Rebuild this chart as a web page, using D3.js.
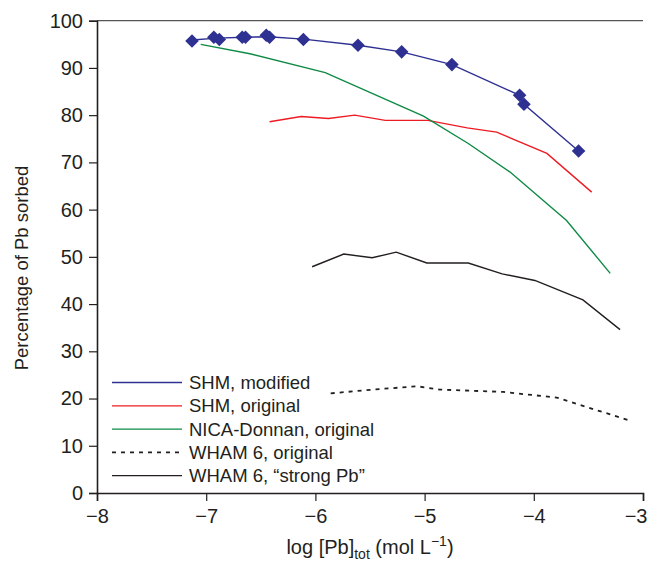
<!DOCTYPE html>
<html>
<head>
<meta charset="utf-8">
<script src="https://cdn.jsdelivr.net/npm/d3@7"></script>
<style>
  body { margin: 0; background: #fff; }
  svg text { font-family: "Liberation Sans", Arial, Helvetica, sans-serif; fill: #231f20; }
</style>
</head>
<body>
<div id="chart"></div>
<script>
const width = 648, height = 563;
const margin = {top: 20.7, right: 5, bottom: 70, left: 97};

// measured points (diamonds), SHM modified
const dataX = [-7.13, -6.93, -6.88, -6.67, -6.64, -6.45, -6.42, -6.11, -5.61, -5.21, -4.75, -4.13, -4.09, -3.59];
const dataY = [95.7, 96.5, 96.0, 96.5, 96.5, 96.9, 96.5, 96.0, 94.8, 93.4, 90.7, 84.2, 82.3, 72.4];

// model curves
const shmModX = [-7.13, -6.9, -6.65, -6.43, -6.11, -5.61, -5.21, -4.75, -4.13, -4.09, -3.59];
const shmModY = [95.9, 96.3, 96.5, 96.6, 96.1, 94.8, 93.4, 90.7, 84.2, 82.3, 72.4];

const shmOrigX = [-6.42, -6.13, -5.88, -5.64, -5.36, -4.97, -4.61, -4.34, -3.88, -3.47];
const shmOrigY = [78.6, 79.7, 79.3, 80.0, 78.9, 78.9, 77.3, 76.4, 71.9, 63.7];

const nicaX = [-7.05, -6.6, -5.91, -5.01, -4.6, -4.22, -3.70, -3.30];
const nicaY = [95.0, 93.0, 89.0, 79.8, 74.0, 68.0, 57.7, 46.5];

const whamOrigX = [-5.86, -5.47, -5.07, -4.86, -4.28, -3.79, -3.13];
const whamOrigY = [21.1, 21.9, 22.6, 21.9, 21.4, 20.2, 15.4];

const whamStrongX = [-6.03, -5.74, -5.48, -5.26, -4.98, -4.60, -4.29, -3.99, -3.55, -3.21];
const whamStrongY = [47.9, 50.6, 49.8, 51.0, 48.7, 48.7, 46.4, 45.0, 40.9, 34.6];

const xTicks = [-8, -7, -6, -5, -4, -3];
const yTicks = [0, 10, 20, 30, 40, 50, 60, 70, 80, 90, 100];

const seriesNames = ['SHM, modified', 'SHM, original', 'NICA-Donnan, original', 'WHAM 6, original', 'WHAM 6, \u201cstrong Pb\u201d'];
const seriesColors = ['#2e3192', '#ed1c24', '#0f8a45', '#231f20', '#231f20'];
const seriesDash = [null, null, null, '4,5', null];

function zip(xs, ys) { return xs.map((x, i) => ({x: x, y: ys[i]})); }

const series = [
  zip(shmModX, shmModY),
  zip(shmOrigX, shmOrigY),
  zip(nicaX, nicaY),
  zip(whamOrigX, whamOrigY),
  zip(whamStrongX, whamStrongY)
];

const svg = d3.select('#chart').append('svg')
  .attr('width', width)
  .attr('height', height);

const x = d3.scaleLinear().domain([-8, -3]).range([margin.left, width - margin.right]);
const y = d3.scaleLinear().domain([0, 100]).range([height - margin.bottom, margin.top]);

// top frame line
svg.append('line')
  .attr('x1', x(-8)).attr('x2', x(-3))
  .attr('y1', y(100)).attr('y2', y(100))
  .attr('stroke', '#555').attr('stroke-width', 1.2);

const xAxis = svg.append('g')
  .attr('transform', 'translate(0,' + y(0) + ')')
  .call(d3.axisBottom(x).tickValues(xTicks).tickFormat(d3.format('d')).tickSize(8).tickPadding(8));

const yAxis = svg.append('g')
  .attr('transform', 'translate(' + x(-8) + ',0)')
  .call(d3.axisLeft(y).tickValues(yTicks).tickSize(8).tickPadding(6));

[xAxis, yAxis].forEach(g => {
  g.select('.domain').attr('stroke', '#231f20').attr('stroke-width', 1.6);
  g.selectAll('.tick line').attr('stroke', '#231f20').attr('stroke-width', 1.2);
  g.selectAll('.tick text').style('font-size', '20px').attr('fill', '#231f20')
    .style('font-family', '"Liberation Sans", Arial, sans-serif');
});

// last x label sits at the page edge, keep it inside
xAxis.selectAll('.tick text').filter(d => d == -3)
  .attr('text-anchor', 'end').attr('x', 4);

const line = d3.line().x(d => x(d.x)).y(d => y(d.y));

svg.append('g').selectAll('path')
  .data(series)
  .enter().append('path')
  .attr('d', line)
  .attr('fill', 'none')
  .attr('stroke', (d, i) => seriesColors[i])
  .attr('stroke-width', (d, i) => i == 3 ? 1.8 : 1.4)
  .attr('stroke-dasharray', (d, i) => seriesDash[i]);

const diamond = d3.symbol().type(d3.symbolSquare).size(92);
svg.append('g').selectAll('path')
  .data(zip(dataX, dataY))
  .enter().append('path')
  .attr('d', diamond)
  .attr('transform', d => 'translate(' + x(d.x) + ',' + y(d.y) + ') rotate(45)')
  .attr('fill', '#2e3192');

// legend
const legend = svg.append('g').attr('transform', 'translate(112,382.5)');
const rows = legend.selectAll('g')
  .data(seriesNames)
  .enter().append('g')
  .attr('transform', (d, i) => 'translate(0,' + i * 23.3 + ')');
rows.append('line')
  .attr('x1', 0).attr('x2', 70)
  .attr('stroke', (d, i) => seriesColors[i])
  .attr('stroke-width', (d, i) => i == 3 ? 1.8 : 1.3)
  .attr('stroke-dasharray', (d, i) => seriesDash[i]);
rows.append('text')
  .attr('x', 77)
  .attr('dy', '0.35em')
  .style('font-size', '18.5px')
  .text(d => d);

// axis titles
svg.append('text')
  .attr('transform', 'translate(28,' + 268 + ') rotate(-90)')
  .attr('text-anchor', 'middle')
  .style('font-size', '18.5px')
  .text('Percentage of Pb sorbed');

const xt = svg.append('text')
  .attr('x', (x(-8) + x(-3)) / 2)
  .attr('y', 554)
  .attr('text-anchor', 'middle')
  .style('font-size', '20px');
xt.append('tspan').text('log [Pb]');
xt.append('tspan').attr('dy', 5).style('font-size', '14px').text('tot');
xt.append('tspan').attr('dy', -5).text(' (mol L');
xt.append('tspan').attr('dy', -8).style('font-size', '14px').text('\u22121');
xt.append('tspan').attr('dy', 8).text(')');
</script>
</body>
</html>
